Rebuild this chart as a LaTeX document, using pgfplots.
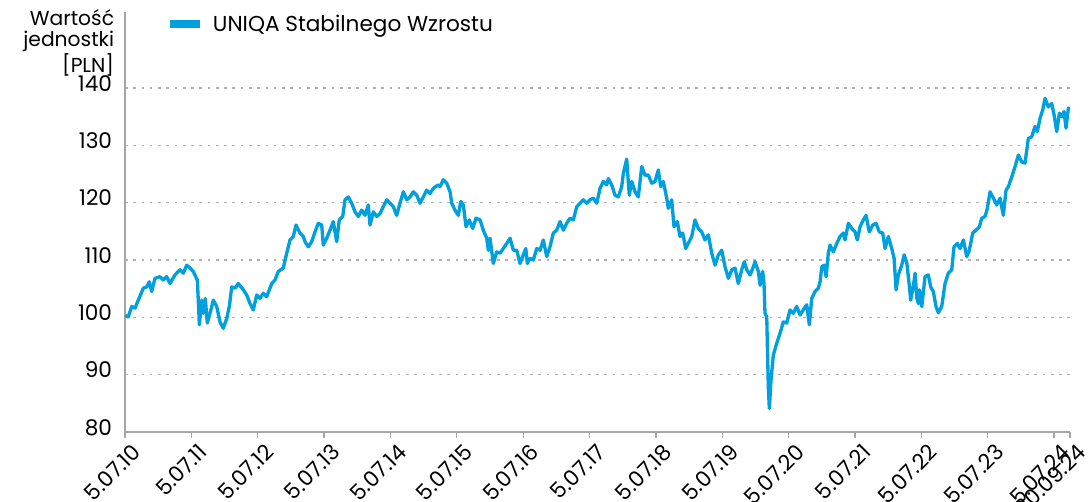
\documentclass[border=0pt]{standalone}
\usepackage{pgfplots}
\pgfplotsset{compat=1.18}
\usepackage{fontspec}
\setmainfont{Poppins}
\definecolor{lineblue}{RGB}{0,160,222}
\definecolor{gridgray}{RGB}{178,178,178}
\definecolor{axisgray}{RGB}{165,165,165}
\begin{document}
\begin{tikzpicture}[x=1pt,y=1pt]
\useasboundingbox (-93.75,-51.75) rectangle (724.5,324);
\begin{axis}[
  at={(0,0)}, anchor=south west,
  scale only axis, width=708.75pt, height=315pt,
  xmin=0, xmax=14.24, ymin=80, ymax=153.26,
  axis x line*=bottom, axis y line*=left,
  axis line style={draw=axisgray, line width=1.1pt},
  font=\fontsize{16.2pt}{18.75pt}\selectfont,
  /pgf/number format/assume math mode=true,
  xtick={0,1,2,3,4,5,6,7,8,9,10,11,12,13,14,14.24},
  xticklabels={5.07.10,5.07.11,5.07.12,5.07.13,5.07.14,5.07.15,5.07.16,5.07.17,5.07.18,5.07.19,5.07.20,5.07.21,5.07.22,5.07.23,5.07.24,30.09.24},
  ytick={80,90,100,110,120,130,140},
  tick align=outside, major tick length=4.5pt,
  xtick style={draw=axisgray, line width=1pt},
  ytick style={draw=none},
  ymajorgrids,
  grid style={gridgray, line width=0.9pt, dash pattern=on 2pt off 4.2pt},
  yticklabel style={anchor=east, inner sep=0pt, xshift=-5pt, yshift=3.5pt},
  xticklabel style={inner sep=0pt, xshift=9pt, yshift=-7.5pt, rotate=45, anchor=east},
  every axis y label/.style={at={(rel axis cs:0,1)}, anchor=north east, align=right, inner sep=0pt, xshift=-8pt, yshift=2pt, font=\fontsize{15.2pt}{15.75pt}\selectfont},
  ylabel={Wartość\\jednostki\\{}[PLN]},
  legend style={at={(rel axis cs:0.0476,0.9714)}, anchor=west, draw=none, fill=none, inner xsep=0pt, inner ysep=0pt},
  legend cell align=left,
  legend image code/.code={\fill[lineblue, draw=none] (0pt,-3pt) rectangle (22.5pt,3pt); \path[draw=none] (22.5pt,0pt) -- (30pt,0pt);},
]
\addplot[lineblue, line width=2.5pt, line join=round] coordinates {
(0,100.3) (0.050,100.1) (0.101,101.9) (0.151,101.6) (0.200,103.0) (0.276,105.1) (0.327,105.3) (0.366,106.2) (0.402,104.5) (0.452,106.8)
(0.527,107.1) (0.577,106.5) (0.628,107.1) (0.678,105.9) (0.753,107.4) (0.829,108.3) (0.879,107.7) (0.930,109.1) (0.980,108.6) (1.029,108.0)
(1.090,106.5) (1.111,101.3) (1.120,98.7) (1.156,103.0) (1.180,100.7) (1.210,103.3) (1.240,99.0) (1.281,100.7) (1.331,103.0) (1.382,101.9)
(1.432,99.2) (1.481,98.1) (1.533,99.8) (1.572,101.9) (1.608,105.3) (1.658,105.1) (1.707,105.9) (1.783,104.8) (1.834,103.9) (1.884,102.4)
(1.933,101.3) (1.985,103.9) (2.034,103.3) (2.084,104.2) (2.135,103.6) (2.211,105.9) (2.260,106.5) (2.310,108.0) (2.385,108.6) (2.437,111.2)
(2.486,113.5) (2.536,114.1) (2.577,116.1) (2.637,114.7) (2.687,114.1) (2.712,113.2) (2.762,112.3) (2.813,113.2) (2.863,114.9) (2.913,116.4)
(2.964,116.1) (2.988,112.6) (3.039,113.8) (3.089,115.2) (3.139,116.7) (3.190,113.2) (3.229,117.0) (3.281,117.6) (3.315,120.5) (3.365,121.0)
(3.416,119.9) (3.466,118.4) (3.516,117.6) (3.567,118.7) (3.617,117.8) (3.666,119.6) (3.692,116.1) (3.742,118.4) (3.793,117.6) (3.843,118.1)
(3.892,119.3) (3.944,120.5) (3.993,119.9) (4.043,119.3) (4.094,117.8) (4.144,119.9) (4.194,121.9) (4.245,120.5) (4.295,121.0) (4.344,121.9)
(4.396,121.3) (4.445,119.9) (4.495,121.0) (4.546,122.2) (4.596,121.6) (4.646,122.5) (4.721,123.1) (4.747,122.8) (4.797,124.0) (4.848,123.4)
(4.898,121.9) (4.923,119.9) (4.973,118.7) (5.023,117.8) (5.059,120.2) (5.098,119.6) (5.139,115.8) (5.188,117.0) (5.240,115.5) (5.289,117.3)
(5.350,117.0) (5.399,115.2) (5.451,113.8) (5.475,111.7) (5.500,113.8) (5.550,109.4) (5.601,111.4) (5.651,111.2) (5.701,112.0) (5.752,112.9)
(5.802,113.8) (5.852,111.7) (5.903,111.7) (5.952,109.4) (6.002,110.9) (6.039,112.0) (6.063,109.4) (6.103,110.3) (6.153,110.0) (6.204,112.0)
(6.254,111.7) (6.303,113.5) (6.355,110.6) (6.404,112.3) (6.454,114.7) (6.505,115.2) (6.555,116.7) (6.605,115.2) (6.656,116.4) (6.706,117.3)
(6.756,117.0) (6.807,119.3) (6.856,119.9) (6.906,120.5) (6.957,119.9) (7.007,120.5) (7.057,120.8) (7.108,119.9) (7.158,122.5) (7.208,123.7)
(7.259,123.1) (7.283,124.2) (7.334,123.1) (7.384,121.3) (7.434,121.0) (7.485,122.8) (7.509,125.1) (7.560,127.6) (7.599,121.3) (7.636,123.7)
(7.686,121.9) (7.735,121.0) (7.786,126.3) (7.836,124.8) (7.886,124.8) (7.937,123.4) (7.987,123.7) (8.036,125.7) (8.073,122.8) (8.112,123.7)
(8.163,120.8) (8.187,119.0) (8.238,120.5) (8.273,115.8) (8.323,116.7) (8.363,114.1) (8.404,114.7) (8.449,112.0) (8.488,112.9) (8.540,114.1)
(8.589,117.0) (8.639,115.5) (8.690,114.9) (8.740,113.5) (8.790,114.4) (8.841,111.2) (8.891,109.1) (8.941,110.9) (8.992,111.7) (9.042,108.8)
(9.092,106.8) (9.143,108.3) (9.192,108.6) (9.242,105.9) (9.293,108.3) (9.332,109.7) (9.369,108.3) (9.419,107.4) (9.468,108.8) (9.494,109.7)
(9.544,108.0) (9.570,105.6) (9.609,108.0) (9.629,105.9) (9.644,100.7) (9.670,100.1) (9.694,87.9) (9.709,84.1) (9.735,89.1) (9.769,93.4)
(9.821,95.5) (9.870,97.2) (9.920,99.2) (9.971,99.0) (10.021,101.3) (10.071,100.7) (10.122,101.9) (10.172,100.4) (10.221,101.3) (10.273,102.2)
(10.312,98.7) (10.348,103.3) (10.398,104.5) (10.448,105.1) (10.474,106.2) (10.499,108.8) (10.534,109.1) (10.565,107.1) (10.598,111.2) (10.624,112.6)
(10.674,111.4) (10.725,112.9) (10.775,114.1) (10.824,114.7) (10.850,113.5) (10.900,116.4) (10.951,115.5) (11.001,114.9) (11.035,113.5) (11.076,115.8)
(11.126,117.0) (11.166,117.8) (11.216,114.9) (11.267,116.1) (11.317,116.4) (11.367,114.9) (11.418,114.7) (11.453,112.0) (11.503,114.1) (11.554,112.0)
(11.589,110.3) (11.619,104.8) (11.653,107.4) (11.704,109.1) (11.741,110.9) (11.781,109.5) (11.821,105.3) (11.839,103.0) (11.881,105.6) (11.906,107.7)
(11.932,103.3) (11.956,102.4) (11.971,104.8) (12.007,101.9) (12.055,107.1) (12.105,107.4) (12.141,105.3) (12.180,104.5) (12.221,101.9) (12.256,100.8)
(12.307,101.9) (12.357,105.9) (12.406,107.7) (12.458,108.3) (12.492,112.3) (12.542,112.9) (12.583,112.0) (12.633,113.5) (12.684,110.6) (12.723,111.7)
(12.774,114.7) (12.824,115.2) (12.874,115.8) (12.910,117.3) (12.960,117.6) (12.994,119.0) (13.035,121.9) (13.085,120.8) (13.136,119.6) (13.186,120.8)
(13.235,117.8) (13.276,122.2) (13.311,122.8) (13.362,124.5) (13.412,126.3) (13.461,128.3) (13.513,127.1) (13.562,126.9) (13.612,131.2) (13.663,131.5)
(13.713,133.3) (13.747,132.4) (13.788,134.7) (13.829,136.2) (13.864,138.2) (13.914,136.7) (13.965,137.3) (14.000,135.3) (14.040,132.4) (14.079,135.6)
(14.115,135.0) (14.150,135.9) (14.180,133.0) (14.215,136.5) (14.240,136.2)
};
\addlegendentry{UNIQA Stabilnego Wzrostu}
\end{axis}
\end{tikzpicture}
\end{document}
